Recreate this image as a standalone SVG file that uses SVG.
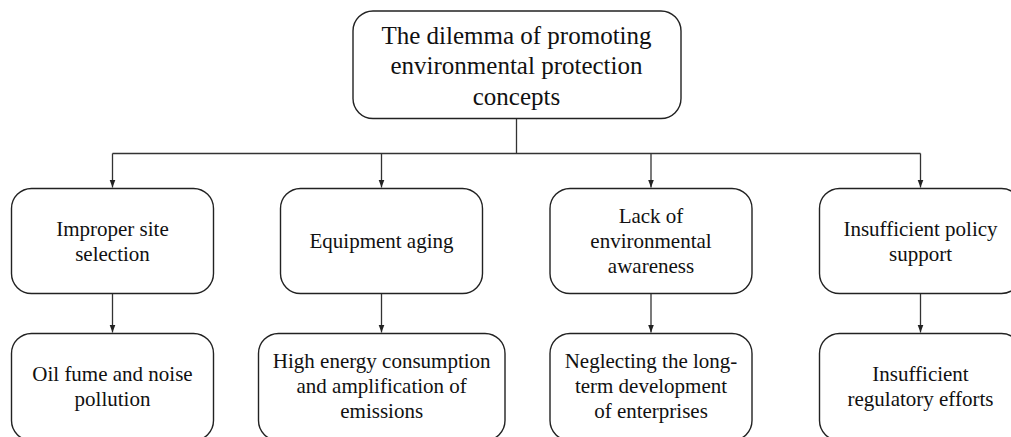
<svg xmlns="http://www.w3.org/2000/svg" width="1011" height="437" viewBox="0 0 1011 437">
<style>
.box{fill:#fff;stroke:#222;stroke-width:1.4}
.t{font-family:"Liberation Serif","Times New Roman",serif;font-size:21px;fill:#111;text-anchor:middle}
.tt{font-family:"Liberation Serif","Times New Roman",serif;font-size:25px;fill:#111;text-anchor:middle}
.c{fill:none;stroke:#333;stroke-width:1.3}
</style>
<defs>
<marker id="ah" viewBox="0 0 8 8" refX="8" refY="4" markerWidth="8" markerHeight="8" markerUnits="userSpaceOnUse" orient="auto">
<path d="M0,1 L8,4 L0,7 Z" fill="#222"/>
</marker>
</defs>
<rect width="1011" height="437" fill="#fff"/>
<g id="connectors">
<path class="c" d="M516.5,118.5 V153.5"/>
<path class="c" d="M112.5,153.5 H920.5"/>
<path class="c" d="M112.5,153.5 V187.5" marker-end="url(#ah)"/>
<path class="c" d="M381.5,153.5 V187.5" marker-end="url(#ah)"/>
<path class="c" d="M651,153.5 V187.5" marker-end="url(#ah)"/>
<path class="c" d="M920.5,153.5 V187.5" marker-end="url(#ah)"/>
<path class="c" d="M112.5,293.5 V332.5" marker-end="url(#ah)"/>
<path class="c" d="M381.5,293.5 V332.5" marker-end="url(#ah)"/>
<path class="c" d="M651,293.5 V332.5" marker-end="url(#ah)"/>
<path class="c" d="M920.5,293.5 V332.5" marker-end="url(#ah)"/>
</g>
<g id="root">
<rect class="box" x="353" y="11" width="328" height="107.5" rx="20"/>
<text class="tt" x="516.5" y="43.5">The dilemma of promoting</text>
<text class="tt" x="516.5" y="74">environmental protection</text>
<text class="tt" x="516.5" y="104.5">concepts</text>
</g>
<g id="n1">
<rect class="box" x="11.5" y="188.5" width="202" height="105" rx="20"/>
<text class="t" x="112.5" y="235.7">Improper site</text>
<text class="t" x="112.5" y="260.7">selection</text>
</g>
<g id="n2">
<rect class="box" x="280.5" y="188.5" width="202" height="105" rx="20"/>
<text class="t" x="381.5" y="248.3">Equipment aging</text>
</g>
<g id="n3">
<rect class="box" x="550" y="188.5" width="202" height="105" rx="20"/>
<text class="t" x="651" y="222.7">Lack of</text>
<text class="t" x="651" y="248.3">environmental</text>
<text class="t" x="651" y="273.3">awareness</text>
</g>
<g id="n4">
<rect class="box" x="819.5" y="188.5" width="202" height="105" rx="20"/>
<text class="t" x="920.5" y="235.7">Insufficient policy</text>
<text class="t" x="920.5" y="260.7">support</text>
</g>
<g id="n5">
<rect class="box" x="11.5" y="333.5" width="202" height="107" rx="20"/>
<text class="t" x="112.5" y="380.7">Oil fume and noise</text>
<text class="t" x="112.5" y="405.7">pollution</text>
</g>
<g id="n6">
<rect class="box" x="258.5" y="333.5" width="246.5" height="107" rx="20"/>
<text class="t" x="381.7" y="368.3">High energy consumption</text>
<text class="t" x="381.7" y="393.3">and amplification of</text>
<text class="t" x="381.7" y="418.3">emissions</text>
</g>
<g id="n7">
<rect class="box" x="550" y="333.5" width="202" height="107" rx="20"/>
<text class="t" x="651" y="368.3">Neglecting the long-</text>
<text class="t" x="651" y="393.3">term development</text>
<text class="t" x="651" y="418.3">of enterprises</text>
</g>
<g id="n8">
<rect class="box" x="819.5" y="333.5" width="202" height="107" rx="20"/>
<text class="t" x="920.5" y="380.7">Insufficient</text>
<text class="t" x="920.5" y="405.7">regulatory efforts</text>
</g>
</svg>
